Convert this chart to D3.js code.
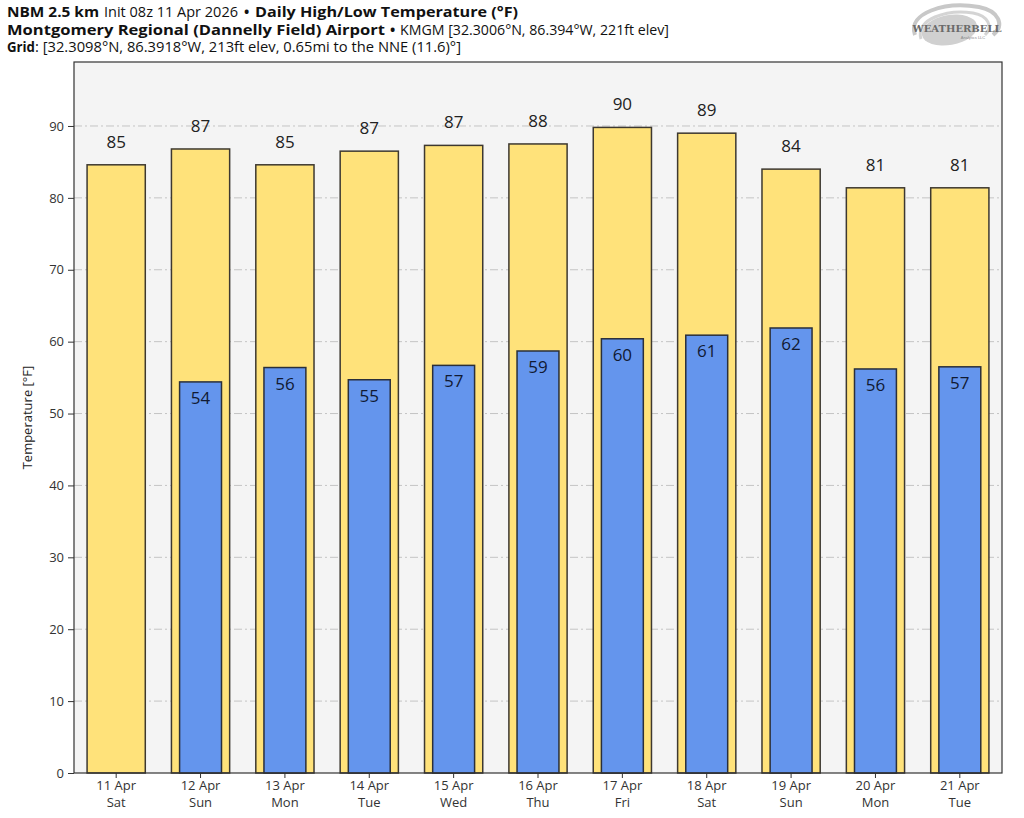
<!DOCTYPE html>
<html><head><meta charset="utf-8">
<script src="https://cdn.jsdelivr.net/npm/d3@7"></script>
<style>
body{margin:0;background:#fff;}
svg{display:block;}
</style></head>
<body>
<svg id="chart" width="1024" height="818"></svg>
<script>
const dates = ["11 Apr","12 Apr","13 Apr","14 Apr","15 Apr","16 Apr","17 Apr","18 Apr","19 Apr","20 Apr","21 Apr"];
const weekdays = ["Sat","Sun","Mon","Tue","Wed","Thu","Fri","Sat","Sun","Mon","Tue"];
const highs = [84.6, 86.8, 84.6, 86.5, 87.3, 87.5, 89.8, 89.0, 84.0, 81.4, 81.4];
const lows = [null, 54.4, 56.4, 54.7, 56.7, 58.7, 60.4, 60.9, 61.9, 56.2, 56.5];
const yTicks = [0,10,20,30,40,50,60,70,80,90];

const svg = d3.select("#chart");
const W = 1024, H = 818;
const m = {left:74, right:22, top:62, bottom:45};
const pw = W - m.left - m.right, ph = H - m.top - m.bottom;

const x = d3.scaleBand().domain(d3.range(dates.length)).range([m.left, m.left+pw]).paddingInner(0.31).paddingOuter(0.155);
const y = d3.scaleLinear().domain([0, 98.9]).range([m.top+ph, m.top]);

svg.append("rect").attr("x",m.left).attr("y",m.top).attr("width",pw).attr("height",ph).attr("fill","#f4f4f4");

svg.append("g").selectAll("line").data(yTicks.filter(d=>d>0)).join("line")
  .attr("x1",m.left).attr("x2",m.left+pw).attr("y1",d=>y(d)).attr("y2",d=>y(d))
  .attr("stroke","#c4c4c4").attr("stroke-width",1).attr("stroke-dasharray","8,3,2,3");

const fontF = "'Open Sans','Noto Sans',sans-serif";

const bw = x.bandwidth();
svg.append("g").selectAll("rect").data(highs).join("rect")
  .attr("x",(d,i)=>x(i)).attr("width",bw)
  .attr("y",d=>y(d)).attr("height",d=>y(0)-y(d))
  .attr("fill","#ffe27a").attr("stroke","#3d3830").attr("stroke-width",1.5);

const lw = bw*0.72;
const lowData = lows.map((v,i)=>({v,i})).filter(d=>d.v!=null);
svg.append("g").selectAll("rect").data(lowData).join("rect")
  .attr("x",d=>x(d.i)+(bw-lw)/2).attr("width",lw)
  .attr("y",d=>y(d.v)).attr("height",d=>y(0)-y(d.v))
  .attr("fill","#6495ed").attr("stroke","#2a2f3a").attr("stroke-width",1.5);

svg.append("g").selectAll("text").data(highs).join("text")
  .attr("x",(d,i)=>x(i)+bw/2).attr("y",d=>y(d)-17)
  .attr("text-anchor","middle").attr("font-family",fontF).attr("font-size",17)
  .attr("fill","#222").text(d=>Math.round(d));

svg.append("g").selectAll("text").data(lowData).join("text")
  .attr("x",d=>x(d.i)+bw/2).attr("y",d=>y(d.v)+22)
  .attr("text-anchor","middle").attr("font-family",fontF).attr("font-size",17)
  .attr("fill","#111a33").text(d=>Math.round(d.v));

svg.append("rect").attr("x",m.left).attr("y",m.top).attr("width",pw).attr("height",ph)
  .attr("fill","none").attr("stroke","#333").attr("stroke-width",1.2);

const yAxis = d3.axisLeft(y).tickValues(yTicks).tickSize(6).tickPadding(4);
const gy = svg.append("g").attr("transform",`translate(${m.left},0)`).call(yAxis);
gy.select(".domain").remove();
gy.selectAll("line").attr("stroke","#333");
gy.selectAll("text").attr("font-family",fontF).attr("font-size",13).attr("fill","#333");

const xAxis = d3.axisBottom(x).tickSize(5).tickFormat("");
const gx = svg.append("g").attr("transform",`translate(0,${m.top+ph})`).call(xAxis);
gx.select(".domain").remove();
gx.selectAll("line").attr("stroke","#333");
const xl = svg.append("g").selectAll("text").data(dates).join("text")
  .attr("x",(d,i)=>x(i)+bw/2).attr("y",m.top+ph+17)
  .attr("text-anchor","middle").attr("font-family",fontF).attr("font-size",13).attr("fill","#333");
xl.append("tspan").attr("x",(d,i)=>x(i)+bw/2).text(d=>d);
xl.append("tspan").attr("x",(d,i)=>x(i)+bw/2).attr("dy",17).text((d,i)=>weekdays[i]);

svg.append("text").attr("transform",`translate(32,${m.top+ph/2}) rotate(-90)`)
  .attr("text-anchor","middle").attr("font-family",fontF).attr("font-size",13).attr("fill","#222")
  .text("Temperature [°F]");

// titles
const tf = "'Open Sans','Noto Sans',sans-serif";
function line(yPos, parts){
  const t = svg.append("text").attr("x",7).attr("y",yPos).attr("font-family",tf).attr("font-size",14).attr("fill","#111");
  parts.forEach(p=>{
    const s = t.append("tspan").text(p.t);
    if(p.b) s.attr("font-weight","bold");
    if(p.x!=null) s.attr("x",p.x);
    if(p.w!=null) s.attr("textLength",p.w).attr("lengthAdjust","spacingAndGlyphs");
  });
}
line(17,[{t:"NBM 2.5 km",b:1,x:7,w:92},{t:"Init 08z 11 Apr 2026",x:104,w:134},{t:"•",b:1,x:244},{t:"Daily High/Low Temperature (°F)",b:1,x:255,w:263}]);
line(35,[{t:"Montgomery Regional (Dannelly Field) Airport",b:1,x:7,w:378},{t:"•",b:1,x:390},{t:"KMGM [32.3006°N, 86.394°W, 221ft elev]",x:400,w:269}]);
line(52,[{t:"Grid",b:1,x:7,w:28},{t:": [32.3098°N, 86.3918°W, 213ft elev, 0.65mi to the NNE (11.6)°]",x:35,w:426}]);

// logo
const lg = svg.append("g").attr("transform","translate(955,27)");
lg.append("path").attr("d","M-40,8 C-48,-14 -10,-26 24,-20 C44,-16 50,-2 38,8").attr("fill","none").attr("stroke","#c8c8c8").attr("stroke-width",4);
lg.append("path").attr("d","M-34,12 C-40,-8 -8,-18 18,-14 C34,-11 38,0 30,8").attr("fill","none").attr("stroke","#d4d4d4").attr("stroke-width",3);
lg.append("ellipse").attr("cx",-6).attr("cy",2).attr("rx",28).attr("ry",15).attr("fill","#d0d0d0").attr("transform","rotate(-10)");
lg.append("text").attr("x",2).attr("y",5).attr("text-anchor","middle").attr("font-family","'DejaVu Serif',serif").attr("font-size",10).attr("font-weight","bold").attr("fill","#6a6a6a").text("WEATHERBELL");
lg.append("text").attr("x",18).attr("y",12).attr("text-anchor","middle").attr("font-family","sans-serif").attr("font-size",4).attr("fill","#888").text("Analytics LLC");
</script>
</body></html>
